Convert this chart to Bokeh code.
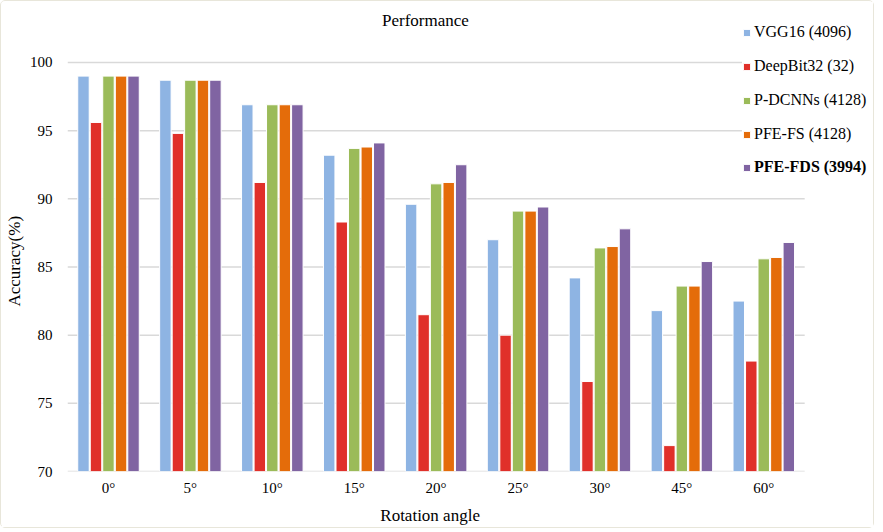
from bokeh.plotting import figure
from bokeh.models import (ColumnDataSource, Range1d, FixedTicker, Legend, LegendItem, Label)
from bokeh.transform import dodge
from bokeh.embed import file_html
from bokeh.resources import INLINE

angles = ["0°", "5°", "10°", "15°", "20°", "25°", "30°", "45°", "60°"]
vgg16 = [99.0, 98.7, 96.9, 93.2, 89.6, 87.0, 84.2, 81.8, 82.5]
deepbit32 = [95.6, 94.8, 91.2, 88.3, 81.5, 80.0, 76.6, 71.9, 78.1]
pdcnns = [99.0, 98.7, 96.9, 93.7, 91.1, 89.1, 86.4, 83.6, 85.6]
pfe_fs = [99.0, 98.7, 96.9, 93.8, 91.2, 89.1, 86.5, 83.6, 85.7]
pfe_fds = [99.0, 98.7, 96.9, 94.1, 92.5, 89.4, 87.8, 85.4, 86.8]
series_names = ["VGG16 (4096)", "DeepBit32 (32)", "P-DCNNs (4128)", "PFE-FS (4128)", "PFE-FDS (3994)"]
y_ticks = [70, 75, 80, 85, 90, 95, 100]

colors = ["#8EB4E3", "#E0302A", "#9BBB59", "#E46C0A", "#8064A2"]
offsets = [-0.305, -0.152, 0.0, 0.154, 0.306]
keys = ["vgg16", "deepbit32", "pdcnns", "pfe_fs", "pfe_fds"]

n = len(angles)
xpos = [i + 0.5 for i in range(n)]
source = ColumnDataSource(data=dict(x=xpos, vgg16=vgg16, deepbit32=deepbit32,
                                    pdcnns=pdcnns, pfe_fs=pfe_fs, pfe_fds=pfe_fds))

FONT = "Liberation Serif"
NB = "\u00a0"

p = figure(x_range=Range1d(0, n + 0.84), y_range=Range1d(70, 103.96),
           frame_width=806, frame_height=463, output_backend="svg", toolbar_location=None,
           min_border_left=58, min_border_right=0, min_border_top=7, min_border_bottom=52,
           styles={"border": "1px solid #E8E6DA", "border-radius": "5px"})

# horizontal grid lines spanning only the category area
p.segment(x0=[0] * len(y_ticks), x1=[n] * len(y_ticks), y0=y_ticks, y1=y_ticks,
          line_color="#D9D9D9", line_width=1.5, level="underlay")

renderers = []
for k, c, off in zip(keys, colors, offsets):
    r = p.vbar(x=dodge("x", off), top=k, bottom=70, width=0.14,
               source=source, fill_color=c, line_color="white", line_width=1)
    renderers.append(r)

p.outline_line_color = None
p.xgrid.grid_line_color = None
p.ygrid.grid_line_color = None
p.yaxis.ticker = FixedTicker(ticks=y_ticks)
p.xaxis.ticker = FixedTicker(ticks=xpos)
p.xaxis.major_label_overrides = {x: a for x, a in zip(xpos, angles)}
for ax in (p.xaxis[0], p.yaxis[0]):
    ax.major_tick_line_color = None
    ax.minor_tick_line_color = None
    ax.axis_line_color = None
    ax.major_label_text_font = FONT
    ax.major_label_text_font_size = "15px"
    ax.major_label_text_color = "#000000"
    ax.axis_label_text_font = FONT
    ax.axis_label_text_font_size = "17px"
    ax.axis_label_text_font_style = "normal"
    ax.axis_label_text_color = "#000000"
p.yaxis.axis_label = "Accuracy(%)" + NB * 10
p.xaxis.axis_label = "Rotation angle" + NB * 19
p.yaxis.major_label_standoff = 9
p.xaxis.major_label_standoff = 2
p.yaxis.axis_label_standoff = 3
p.xaxis.axis_label_standoff = 7

p.add_layout(Label(x=4.37, y=103.08, text="Performance", text_font=FONT,
                   text_font_size="17px", text_align="center", text_baseline="middle",
                   text_color="#000000"))


def make_legend(items, loc, bold=False):
    return Legend(items=items, location=loc, orientation="vertical",
                  label_text_font=FONT, label_text_font_size="16px",
                  label_text_font_style="bold" if bold else "normal",
                  label_text_color="#000000",
                  glyph_width=9, glyph_height=9, label_height=18, label_standoff=3,
                  spacing=16, padding=3, margin=0,
                  background_fill_color="white", background_fill_alpha=1.0,
                  border_line_color=None)


items1 = [LegendItem(label=s, renderers=[r]) for s, r in zip(series_names[:4], renderers[:4])]
items2 = [LegendItem(label=series_names[4], renderers=[renderers[4]])]
p.add_layout(make_legend(items1, (675, 328)), "center")
p.add_layout(make_legend(items2, (675, 295), bold=True), "center")

open("out.html", "w").write(file_html(p, INLINE))
